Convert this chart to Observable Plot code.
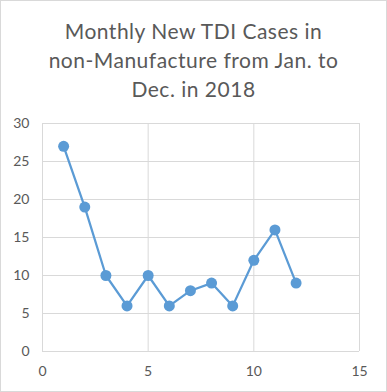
<!DOCTYPE html>
<html><head><meta charset="utf-8">
<script src="https://cdn.jsdelivr.net/npm/d3@7"></script>
<script src="https://cdn.jsdelivr.net/npm/@observablehq/plot@0.6"></script>
<style>
body{margin:0;background:#fff;}
#wrap{position:relative;width:387px;height:392px;overflow:hidden;font-family:Lato,"Open Sans",sans-serif;}
#border{position:absolute;left:0;top:0;width:387px;height:392px;box-sizing:border-box;border:1px solid #d9d9d9;pointer-events:none;}
#title{position:absolute;left:0;top:16px;width:387px;text-align:center;color:#595959;font-size:21px;letter-spacing:0.5px;line-height:29px;}
#chart{position:absolute;left:0;top:104px;}
</style></head>
<body>
<div id="wrap"><div id="title"></div><div id="chart"></div><div id="border"></div></div>
<script>
const titleLines = ["Monthly New TDI Cases in","non-Manufacture from Jan. to","Dec. in 2018"];
const months = [1,2,3,4,5,6,7,8,9,10,11,12];
const cases = [27,19,10,6,10,6,8,9,6,12,16,9];
const xTicks = [0,5,10,15];
const yTicks = [0,5,10,15,20,25,30];

document.getElementById("title").innerHTML = titleLines.join("<br>");
const data = months.map((m,i)=>({m, v: cases[i]}));
const color = "#5b9bd5";
const chart = Plot.plot({
  width: 387, height: 288,
  marginLeft: 42, marginRight: 28, marginTop: 19, marginBottom: 41,
  style: {fontFamily: "Lato, 'Open Sans', sans-serif", fontSize: "14px", color: "#595959", background: "transparent"},
  x: {domain: [0,15], ticks: xTicks, label: null},
  y: {domain: [0,30], ticks: yTicks, label: null},
  marks: [
    Plot.gridX(xTicks, {stroke: "#d9d9d9", strokeOpacity: 1, strokeWidth: 1}),
    Plot.gridY(yTicks, {stroke: "#d9d9d9", strokeOpacity: 1, strokeWidth: 1}),
    Plot.axisX(xTicks, {tickSize: 0, tickPadding: 15, fill: "#595959", fontSize: 14}),
    Plot.axisY(yTicks, {tickSize: 0, tickPadding: 13, fill: "#595959", fontSize: 14}),
    Plot.line(data, {x: "m", y: "v", stroke: color, strokeWidth: 2.25}),
    Plot.dot(data, {x: "m", y: "v", fill: color, r: 5.5, stroke: null})
  ]
});
document.getElementById("chart").appendChild(chart);
</script>
</body></html>
